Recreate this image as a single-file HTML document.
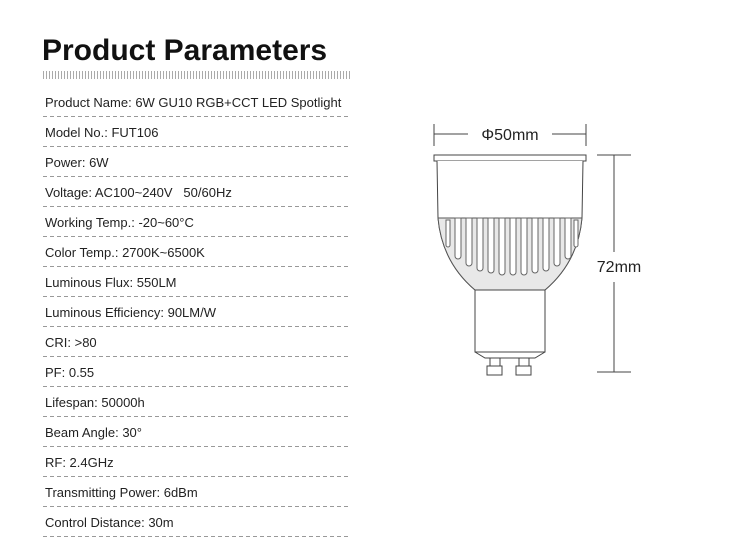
<!DOCTYPE html>
<html><head><style>
body{margin:0;width:750px;height:540px;background:#fff;overflow:hidden;position:relative;font-family:"Liberation Sans",sans-serif;}
h1{position:absolute;left:42px;top:34px;margin:0;font-size:30px;font-weight:bold;color:#111;letter-spacing:0px}
.ticks{position:absolute;left:43px;top:71px;width:307px;height:8px;background:repeating-linear-gradient(90deg,#aaa 0 1px,transparent 1px 3px)}
.row{position:absolute;left:45px;font-size:13px;color:#222;width:305px}
.line{position:absolute;left:43px;width:307px;height:1px;background:repeating-linear-gradient(90deg,#999 0 4px,transparent 4px 7px)}
</style></head><body>
<h1>Product Parameters</h1>
<div class="ticks"></div>
<div class="row" style="top:95px">Product Name: 6W GU10 RGB+CCT LED Spotlight</div><div class="line" style="top:116px"></div>
<div class="row" style="top:125px">Model No.: FUT106</div><div class="line" style="top:146px"></div>
<div class="row" style="top:155px">Power: 6W</div><div class="line" style="top:176px"></div>
<div class="row" style="top:185px">Voltage: AC100~240V &nbsp;&nbsp;50/60Hz</div><div class="line" style="top:206px"></div>
<div class="row" style="top:215px">Working Temp.: -20~60°C</div><div class="line" style="top:236px"></div>
<div class="row" style="top:245px">Color Temp.: 2700K~6500K</div><div class="line" style="top:266px"></div>
<div class="row" style="top:275px">Luminous Flux: 550LM</div><div class="line" style="top:296px"></div>
<div class="row" style="top:305px">Luminous Efficiency: 90LM/W</div><div class="line" style="top:326px"></div>
<div class="row" style="top:335px">CRI: &gt;80</div><div class="line" style="top:356px"></div>
<div class="row" style="top:365px">PF: 0.55</div><div class="line" style="top:386px"></div>
<div class="row" style="top:395px">Lifespan: 50000h</div><div class="line" style="top:416px"></div>
<div class="row" style="top:425px">Beam Angle: 30°</div><div class="line" style="top:446px"></div>
<div class="row" style="top:455px">RF: 2.4GHz</div><div class="line" style="top:476px"></div>
<div class="row" style="top:485px">Transmitting Power: 6dBm</div><div class="line" style="top:506px"></div>
<div class="row" style="top:515px">Control Distance: 30m</div><div class="line" style="top:536px"></div>
<svg style="position:absolute;left:0;top:0" width="750" height="540">
<g stroke="#444" fill="none" stroke-width="1">
<line x1="434" y1="124" x2="434" y2="146"/><line x1="586" y1="124" x2="586" y2="146"/>
<line x1="434" y1="134" x2="468" y2="134"/><line x1="552" y1="134" x2="586" y2="134"/>
<line x1="597" y1="155" x2="631" y2="155"/><line x1="597" y1="372" x2="631" y2="372"/>
<line x1="614" y1="155" x2="614" y2="252"/><line x1="614" y1="282" x2="614" y2="372"/>
<rect x="434" y="155" width="152" height="6" fill="#fff"/>
<path d="M437 161 L438 218 Q442 262 475 290 L545 290 Q578 262 582 218 L583 161" fill="#fff"/>
<path d="M438 218 Q442 262 475 290 L545 290 Q578 262 582 218 Z" fill="#e8e8e8" stroke="#555"/>
<rect x="475" y="290" width="70" height="62" fill="#fff"/>
<path d="M475 352 L485 358 L535 358 L545 352"/>
<rect x="490" y="358" width="10" height="8"/><rect x="487" y="366" width="15" height="9"/>
<rect x="519" y="358" width="10" height="8"/><rect x="516" y="366" width="15" height="9"/>
</g>
<g stroke="#666" fill="#fff" stroke-width="1">
<path d="M446 220 v25 a2 2 0 0 0 4 0 v-25z"/>
<path d="M455 218 v38 a3 3 0 0 0 6 0 v-38z"/><path d="M466 218 v45 a3 3 0 0 0 6 0 v-45z"/>
<path d="M477 218 v50 a3 3 0 0 0 6 0 v-50z"/><path d="M488 218 v52 a3 3 0 0 0 6 0 v-52z"/>
<path d="M499 218 v54 a3 3 0 0 0 6 0 v-54z"/><path d="M510 218 v54 a3 3 0 0 0 6 0 v-54z"/>
<path d="M521 218 v54 a3 3 0 0 0 6 0 v-54z"/><path d="M532 218 v52 a3 3 0 0 0 6 0 v-52z"/>
<path d="M543 218 v50 a3 3 0 0 0 6 0 v-50z"/><path d="M554 218 v45 a3 3 0 0 0 6 0 v-45z"/>
<path d="M565 218 v38 a3 3 0 0 0 6 0 v-38z"/><path d="M574 220 v25 a2 2 0 0 0 4 0 v-25z"/>
</g>
<text x="510" y="140" font-size="16" fill="#222" text-anchor="middle" font-family="Liberation Sans">Φ50mm</text>
<text x="619" y="272" font-size="16" fill="#222" text-anchor="middle" font-family="Liberation Sans">72mm</text>
</svg>
</body></html>
